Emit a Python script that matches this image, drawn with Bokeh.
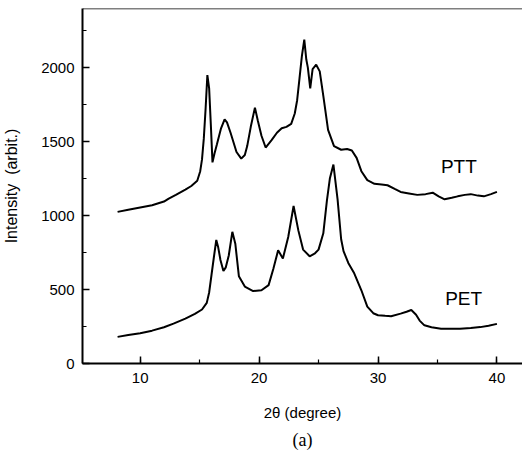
from bokeh.plotting import figure
from bokeh.models import Range1d, SingleIntervalTicker, Span, Title
from bokeh.core.properties import value
from bokeh.embed import file_html
from bokeh.resources import INLINE

# PTT diffraction pattern (2-theta in degrees, intensity arbit.)
ptt_x = [8.1, 9.0, 10.0, 11.0, 12.0, 12.4, 13.0, 13.8, 14.3, 14.8, 15.05, 15.2, 15.35, 15.5,
         15.65, 15.8, 15.95, 16.08, 16.25, 16.45, 16.8, 17.1, 17.3, 17.6, 18.1, 18.5, 18.8,
         19.0, 19.3, 19.65, 19.9, 20.2, 20.55, 21.05, 21.5, 21.9, 22.3, 22.7, 23.0, 23.2,
         23.4, 23.6, 23.8, 23.97, 24.1, 24.3, 24.5, 24.8, 25.1, 25.4, 25.8, 26.3, 26.9, 27.4,
         27.8, 28.2, 28.6, 29.1, 29.7, 30.3, 30.8, 31.4, 31.9, 32.6, 33.3, 34.0, 34.6, 35.1,
         35.6, 36.2, 36.7, 37.3, 37.8, 38.4, 38.9, 39.5, 40.0]
ptt_y = [1025, 1040, 1055, 1070, 1095, 1115, 1140, 1175, 1200, 1235, 1300, 1380, 1520, 1720,
         1950, 1860, 1600, 1360, 1420, 1480, 1590, 1650, 1630, 1560, 1430, 1385, 1410,
         1470, 1600, 1730, 1640, 1540, 1460, 1510, 1560, 1590, 1600, 1620, 1690, 1780,
         1930, 2080, 2190, 2055, 2000, 1860, 1990, 2020, 1975, 1810, 1580, 1470, 1445, 1450,
         1440, 1390, 1300, 1240, 1215, 1210, 1205, 1180, 1160, 1150, 1140, 1145, 1155, 1130,
         1110, 1120, 1130, 1140, 1145, 1135, 1130, 1145, 1160]

# PET diffraction pattern
pet_x = [8.1, 9.0, 10.0, 11.0, 12.0, 12.8, 13.8, 14.6, 15.2, 15.6, 15.8, 16.0, 16.2, 16.4,
         16.55, 16.75, 17.0, 17.2, 17.45, 17.75, 18.0, 18.3, 18.8, 19.5, 20.2, 20.8, 21.2,
         21.6, 22.0, 22.45, 22.9, 23.3, 23.7, 24.25, 24.7, 25.0, 25.4, 25.7, 25.95, 26.25,
         26.6, 26.9, 27.1, 27.5, 28.0, 28.6, 29.1, 29.6, 30.0, 30.6, 31.1, 31.9, 32.4, 32.8,
         33.2, 33.5, 33.9, 34.5, 35.3, 36.0, 36.9, 37.8, 38.6, 39.3, 40.0]
pet_y = [180, 192, 205, 222, 245, 270, 303, 335, 365, 410, 480, 600, 720, 835,
         790, 700, 625, 650, 730, 890, 810, 590, 520, 490, 495, 530, 640,
         765, 710, 855, 1065, 900, 770, 725, 745, 770, 880, 1100, 1250, 1345,
         1110, 840, 760, 680, 610, 495, 385, 340, 326, 322, 320, 337, 350, 362,
         330, 290, 258, 245, 235, 235, 235, 240, 246, 255, 268]

series_names = ["PTT", "PET"]
label_x = [36.8, 37.2]
label_y = [1330, 441]

x_title = "2\u03b8 (degree)"
y_title = "Intensity\u00a0\u00a0(arbit.)"
caption = "(a)"

p = figure(width=522, height=454, output_backend="svg", toolbar_location=None,
           x_range=Range1d(5.15, 42.15), y_range=Range1d(0, 2400),
           min_border_left=80, min_border_right=0, min_border_top=8, min_border_bottom=91)
p.outline_line_color = None
p.xgrid.visible = False
p.ygrid.visible = False
p.background_fill_color = "white"
p.border_fill_color = "white"

p.line(ptt_x, ptt_y, line_color="black", line_width=2.0)
p.line(pet_x, pet_y, line_color="black", line_width=2.0)

p.text(x=label_x, y=label_y, text=series_names, text_align="center", text_baseline="middle",
       text_font=value("Liberation Sans"), text_font_size="19px", text_color="black")

p.add_layout(Span(location=2400, dimension="width", line_color="black", line_width=1.5))

p.xaxis.ticker = SingleIntervalTicker(interval=10, num_minor_ticks=2)
p.yaxis.ticker = SingleIntervalTicker(interval=500, num_minor_ticks=2)

for ax in (p.xaxis, p.yaxis):
    ax.axis_line_width = 2
    ax.axis_line_color = "black"
    ax.major_tick_in = 7
    ax.major_tick_out = 0
    ax.minor_tick_in = 4
    ax.minor_tick_out = 0
    ax.major_tick_line_width = 1.5
    ax.minor_tick_line_width = 1.2
    ax.major_tick_line_color = "black"
    ax.minor_tick_line_color = "black"
    ax.major_label_text_font = "Liberation Sans"
    ax.major_label_text_font_size = "15px"
    ax.major_label_text_color = "black"
    ax.axis_label_text_font = "Liberation Sans"
    ax.axis_label_text_font_size = "15px"
    ax.axis_label_text_font_style = "normal"
    ax.axis_label_text_color = "black"

p.xaxis.axis_label = x_title
p.yaxis.axis_label = y_title
p.yaxis.axis_label_text_font_size = "16px"
p.xaxis.major_label_standoff = 9
p.yaxis.major_label_standoff = 8
p.xaxis.axis_label_standoff = 18
p.yaxis.axis_label_standoff = 18

p.add_layout(Title(text=caption, align="center", text_font="Liberation Serif",
                   text_font_size="18px", text_font_style="normal", text_color="black",
                   standoff=9), "below")

open("out.html", "w").write(file_html(p, INLINE))
